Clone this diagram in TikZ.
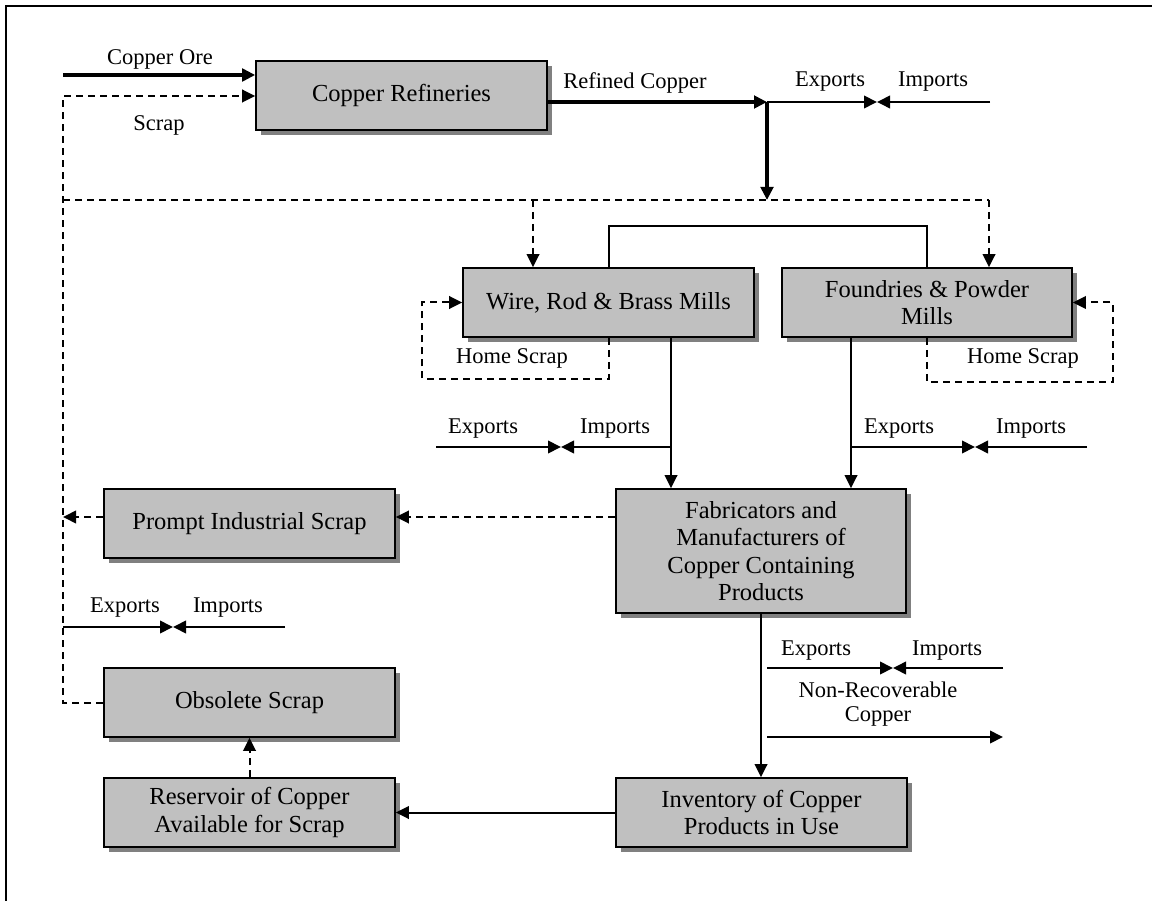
\documentclass[tikz,border=0pt]{standalone}
\usepackage{fontspec}
\setmainfont{Liberation Serif}
\usetikzlibrary{arrows.meta,shadows}
\definecolor{boxgray}{RGB}{192,192,192}
\definecolor{shadowgray}{RGB}{128,128,128}
\begin{document}
\begin{tikzpicture}[x=1pt,y=-1pt,
  flowbox/.style={draw=black,line width=1.6pt,fill=boxgray,inner sep=0pt,align=center,
    minimum width=291pt,minimum height=69pt,
    font=\fontsize{24.5}{27.5}\selectfont,
    drop shadow={shadow xshift=5pt,shadow yshift=-5pt,fill=shadowgray,opacity=1}},
  lbl/.style={anchor=base,inner sep=0pt,font=\fontsize{22.5}{24}\selectfont},
  tip/.style={-{Triangle[length=13pt,width=12.5pt]}},
  solidline/.style={line width=2pt},
  heavyline/.style={line width=4.5pt},
  dashline/.style={line width=2pt,dash pattern=on 7pt off 5pt},
]
\useasboundingbox (0,0) rectangle (1152,901);
% frame
\draw[line width=2pt] (6,901) -- (6,6) -- (1152,6);

% boxes
\node[flowbox] (ref) at (401.5,95.5) {Copper Refineries};
\node[flowbox] (wire) at (608.5,302.5) {Wire, Rod \& Brass Mills};
\node[flowbox,minimum width=290pt] (found) at (927,302.5) {Foundries \& Powder\\Mills};
\node[flowbox,minimum width=290pt,minimum height=124pt] (fab) at (761,551) {Fabricators and\\Manufacturers of\\Copper Containing\\Products};
\node[flowbox] (prompt) at (249.5,523.5) {Prompt Industrial Scrap};
\node[flowbox] (obs) at (249.5,702.5) {Obsolete Scrap};
\node[flowbox] (res) at (249.5,812.5) {Reservoir of Copper\\Available for Scrap};
\node[flowbox] (inv) at (761.5,812.5) {Inventory of Copper\\Products in Use};

% coordinates
\coordinate (oreS) at (63,75);
\coordinate (scrapL) at (63,96);
\coordinate (j) at (767,102);
\coordinate (topEx) at (877,102);
\coordinate (topIm) at (990,102);
\coordinate (dashL) at (63,200);
\coordinate (dashJ) at (767,200);
\coordinate (dashW) at (533,200);
\coordinate (dashR) at (989,200);
\coordinate (mi1) at (671,447);
\coordinate (mEx1) at (436,447);
\coordinate (mMeet1) at (561,447);
\coordinate (mi2) at (851,447);
\coordinate (mMeet2) at (975,447);
\coordinate (mIm2) at (1087,447);
\coordinate (promptL) at (63,517);
\coordinate (lEx) at (63,627);
\coordinate (lMeet) at (173,627);
\coordinate (lIm) at (285,627);
\coordinate (obsL) at (63,702.5);
\coordinate (rEx) at (767,668);
\coordinate (rMeet) at (893,668);
\coordinate (rIm) at (1003,668);
\coordinate (nrS) at (767,737);
\coordinate (nrE) at (1003,737);

% top inputs
\draw[heavyline,tip] (oreS) -- (ref.west |- oreS);
\draw[dashline,tip] (obs.west) -- (obsL) -- (scrapL) -- (ref.west |- scrapL);
\draw[heavyline,tip] (ref.east |- j) -- (j);
\draw[heavyline,tip] (j) -- (dashJ);
\draw[solidline,tip] (j) -- (topEx);
\draw[solidline,tip] (topIm) -- (topEx);

% dashed distribution line
\draw[dashline] (dashL) -- (dashR);
\draw[dashline,tip] (dashR) -- (found.north -| dashR);
\draw[dashline,tip] (dashW) -- (wire.north -| dashW);

% connection between mills
\draw[solidline] (wire.north) -- ++(0,-41) -| (found.north);

% home scrap loops
\draw[dashline,tip] (wire.south) -- ++(0,41) -- ++(-186.5,0) |- (wire.west);
\draw[dashline,tip] (found.south) -- ++(0,44) -- ++(186,0) |- (found.east);

% mills to fabricators
\draw[solidline,tip] (wire.south -| mi1) -- (fab.north -| mi1);
\draw[solidline,tip] (found.south -| mi2) -- (fab.north -| mi2);
\draw[solidline,tip] (mEx1) -- (mMeet1);
\draw[solidline,tip] (mi1) -- (mMeet1);
\draw[solidline,tip] (mi2) -- (mMeet2);
\draw[solidline,tip] (mIm2) -- (mMeet2);

% prompt scrap
\draw[dashline,tip] (fab.west |- promptL) -- (prompt.east |- promptL);
\draw[dashline,tip] (prompt.west |- promptL) -- (promptL);
\draw[solidline,tip] (lEx) -- (lMeet);
\draw[solidline,tip] (lIm) -- (lMeet);

% fabricators to inventory
\draw[solidline,tip] (fab.south) -- (inv.north -| fab.south);
\draw[solidline,tip] (rEx) -- (rMeet);
\draw[solidline,tip] (rIm) -- (rMeet);
\draw[solidline,tip] (nrS) -- (nrE);

% inventory to reservoir to obsolete
\draw[solidline,tip] (inv.west) -- (res.east);
\draw[dashline,tip] (res.north) -- (obs.south);

% labels
\node[lbl] (tOre) at (160,65) {Copper Ore};
\node[lbl] (tScrap) at (159,131) {Scrap};
\node[lbl] (tRef) at (635,89) {Refined Copper};
\node[lbl] (tEx1) at (830,87) {Exports};
\node[lbl] (tIm1) at (933,87) {Imports};
\node[lbl] (tHs1) at (512,364) {Home Scrap};
\node[lbl] (tHs2) at (1023,364) {Home Scrap};
\node[lbl] (tEx2) at (483,434) {Exports};
\node[lbl] (tIm2) at (615,434) {Imports};
\node[lbl] (tEx3) at (899,434) {Exports};
\node[lbl] (tIm3) at (1031,434) {Imports};
\node[lbl] (tEx4) at (125,612) {Exports};
\node[lbl] (tIm4) at (228,612) {Imports};
\node[lbl] (tEx5) at (816,655) {Exports};
\node[lbl] (tIm5) at (947,655) {Imports};
\node[lbl] (tNr1) at (878,697) {Non-Recoverable};
\node[lbl] (tNr2) at (878,721) {Copper};
\end{tikzpicture}
\end{document}
